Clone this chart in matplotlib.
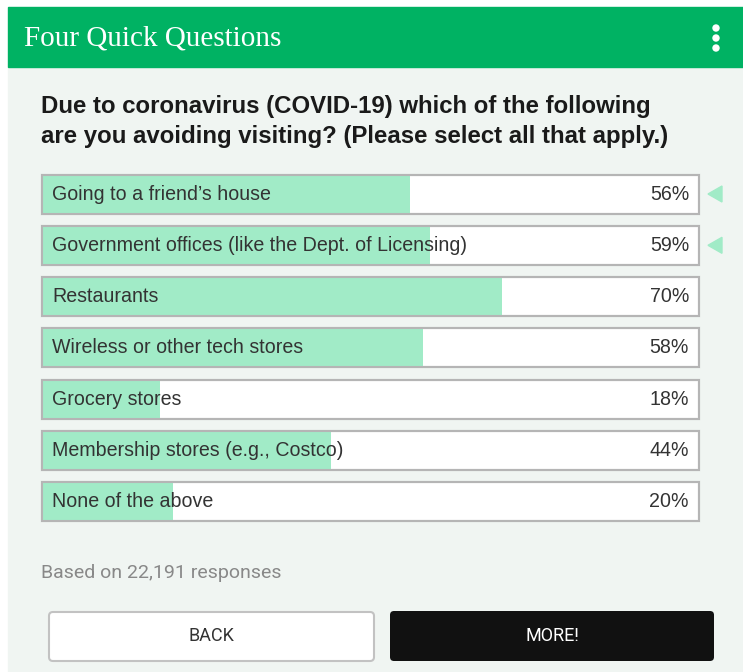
import matplotlib
matplotlib.use("Agg")
import matplotlib.pyplot as plt
from matplotlib.patches import Rectangle, FancyBboxPatch, Polygon, Circle

# --- dados ---
opcoes = [
    "Going to a friend\u2019s house",
    "Government offices (like the Dept. of Licensing)",
    "Restaurants",
    "Wireless or other tech stores",
    "Grocery stores",
    "Membership stores (e.g., Costco)",
    "None of the above",
]
pct = [56, 59, 70, 58, 18, 44, 20]
selecionadas = [True, True, False, False, False, False, False]

titulo = "Four Quick Questions"
pergunta = ["Due to coronavirus (COVID-19) which of the following",
            "are you avoiding visiting? (Please select all that apply.)"]
rodape = "Based on 22,191 responses"

W, H = 743, 672
VERDE = "#00b263"
FUNDO = "#f0f5f2"
BARRA = "#a1ebc7"

fig = plt.figure(figsize=(W / 100, H / 100), dpi=100)
ax = fig.add_axes([0, 0, 1, 1])
ax.set_xlim(0, W)
ax.set_ylim(H, 0)
ax.axis("off")
fig.patch.set_facecolor("white")

# fundo do painel + cabeçalho
ax.add_patch(Rectangle((8, 67), W - 8, H - 67, color=FUNDO, zorder=0))
ax.add_patch(Rectangle((8, 7), W - 8, 60, color=VERDE, zorder=1))
ax.text(24, 38, titulo, color="white", fontsize=21, family="Liberation Serif",
        va="center", ha="left")
for yy in (28, 38, 48):
    ax.add_patch(Circle((716, yy), 3.0, color="white", zorder=3))

for i, linha in enumerate(pergunta):
    ax.text(41, 107 + i * 29, linha, fontsize=17.3, fontweight="bold",
            family="Liberation Sans", color="#1a1a1a", va="center")

# --- barras ---
x0, largura = 42, 657
y_topo, passo, alt = 194, 51.3, 39
ys = [y_topo + i * passo for i in range(len(opcoes))]

ax.barh(ys, [largura] * len(opcoes), left=x0, height=alt, color="white",
        edgecolor="#b5b5b5", linewidth=1.5, zorder=2)
ax.barh(ys, [p / 100 * largura for p in pct], left=x0, height=alt,
        color=BARRA, edgecolor="none", zorder=3)
ax.barh(ys, [largura] * len(opcoes), left=x0, height=alt, color="none",
        edgecolor="#b5b5b5", linewidth=1.5, zorder=4)

for y, nome, p, sel in zip(ys, opcoes, pct, selecionadas):
    ax.text(52, y, nome, fontsize=14.1, family="Liberation Sans",
            color="#333333", va="center", zorder=5)
    ax.text(689, y, f"{p}%", fontsize=14.1, family="Liberation Sans",
            color="#333333", va="center", ha="right", zorder=5)
    if sel:
        ax.add_patch(Polygon([(708, y), (722, y - 8), (722, y + 8)],
                             closed=True, color=BARRA, zorder=5))

ax.text(41, 573, rodape, fontsize=14, family="Roboto", color="#888888",
        va="center")

# --- botões ---
ax.add_patch(FancyBboxPatch((49, 612), 325, 49,
                            boxstyle="round,pad=0,rounding_size=4",
                            facecolor="white", edgecolor="#c2c2c2",
                            linewidth=1.5, zorder=2))
ax.text(211, 636, "BACK", fontsize=13, family="Roboto", color="#333333",
        ha="center", va="center", zorder=3)
ax.add_patch(FancyBboxPatch((390, 611), 324, 50,
                            boxstyle="round,pad=0,rounding_size=4",
                            facecolor="#111111", edgecolor="none", zorder=2))
ax.text(552, 636, "MORE!", fontsize=13, family="Roboto", color="white",
        ha="center", va="center", zorder=3)

fig.savefig("out.png", dpi=100, facecolor=fig.get_facecolor())
